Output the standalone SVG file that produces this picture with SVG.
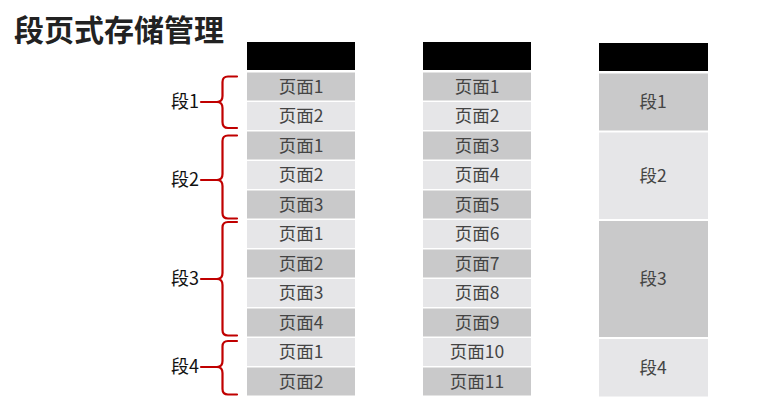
<svg xmlns="http://www.w3.org/2000/svg" width="772" height="407" viewBox="0 0 772 407">
<style>
text{font-family:"Noto Sans CJK SC","Microsoft YaHei",sans-serif}
.title{font-size:30px;font-weight:bold;fill:#222}
.hd{fill:#000}
.d{fill:#c9c9ca}
.l{fill:#e6e6e8}
.t{font-size:17.5px;fill:#444;text-anchor:middle}
.lab{font-size:18px;fill:#111;text-anchor:end}
.br{fill:none;stroke:#c00000;stroke-width:2.2;stroke-linejoin:round;stroke-linecap:round}
</style>
<rect width="772" height="407" fill="#fff"/>
<text class="title" x="14" y="41">段页式存储管理</text>

<g id="col1">
<rect class="hd" x="247" y="42" width="108" height="28"/>
<rect class="d" x="247" y="72.5" width="108" height="28"/><text class="t" x="301" y="92.5">页面1</text>
<rect class="l" x="247" y="102" width="108" height="28"/><text class="t" x="301" y="122">页面2</text>
<rect class="d" x="247" y="131.5" width="108" height="28"/><text class="t" x="301" y="151.5">页面1</text>
<rect class="l" x="247" y="161" width="108" height="28"/><text class="t" x="301" y="181">页面2</text>
<rect class="d" x="247" y="190.5" width="108" height="28"/><text class="t" x="301" y="210.5">页面3</text>
<rect class="l" x="247" y="220" width="108" height="28"/><text class="t" x="301" y="240">页面1</text>
<rect class="d" x="247" y="249.5" width="108" height="28"/><text class="t" x="301" y="269.5">页面2</text>
<rect class="l" x="247" y="279" width="108" height="28"/><text class="t" x="301" y="299">页面3</text>
<rect class="d" x="247" y="308.5" width="108" height="28"/><text class="t" x="301" y="328.5">页面4</text>
<rect class="l" x="247" y="338" width="108" height="28"/><text class="t" x="301" y="358">页面1</text>
<rect class="d" x="247" y="367.5" width="108" height="28"/><text class="t" x="301" y="387.5">页面2</text>
</g>

<g id="col2">
<rect class="hd" x="423" y="42" width="108" height="28"/>
<rect class="d" x="423" y="72.5" width="108" height="28"/><text class="t" x="477" y="92.5">页面1</text>
<rect class="l" x="423" y="102" width="108" height="28"/><text class="t" x="477" y="122">页面2</text>
<rect class="d" x="423" y="131.5" width="108" height="28"/><text class="t" x="477" y="151.5">页面3</text>
<rect class="l" x="423" y="161" width="108" height="28"/><text class="t" x="477" y="181">页面4</text>
<rect class="d" x="423" y="190.5" width="108" height="28"/><text class="t" x="477" y="210.5">页面5</text>
<rect class="l" x="423" y="220" width="108" height="28"/><text class="t" x="477" y="240">页面6</text>
<rect class="d" x="423" y="249.5" width="108" height="28"/><text class="t" x="477" y="269.5">页面7</text>
<rect class="l" x="423" y="279" width="108" height="28"/><text class="t" x="477" y="299">页面8</text>
<rect class="d" x="423" y="308.5" width="108" height="28"/><text class="t" x="477" y="328.5">页面9</text>
<rect class="l" x="423" y="338" width="108" height="28"/><text class="t" x="477" y="358">页面10</text>
<rect class="d" x="423" y="367.5" width="108" height="28"/><text class="t" x="477" y="387.5">页面11</text>
</g>

<g id="col3">
<rect class="hd" x="599" y="43" width="109" height="28"/>
<rect class="d" x="599" y="73.5" width="109" height="57"/><text class="t" x="653" y="108">段1</text>
<rect class="l" x="599" y="132.5" width="109" height="86.5"/><text class="t" x="653" y="182">段2</text>
<rect class="d" x="599" y="221" width="109" height="116"/><text class="t" x="653" y="285">段3</text>
<rect class="l" x="599" y="339" width="109" height="57.5"/><text class="t" x="653" y="374">段4</text>
</g>

<g id="seg1">
<text class="lab" x="199" y="108">段1</text>
<path class="br" d="M237 76.5 L228 76.5 Q222.5 76.5 222.5 82 L222.5 96 Q222.5 102 217 102 Q222.5 102 222.5 108 L222.5 122 Q222.5 128 228 128 L237 128"/>
</g>
<g id="seg2">
<text class="lab" x="199" y="186">段2</text>
<path class="br" d="M237 135.5 L228 135.5 Q222.5 135.5 222.5 141 L222.5 174 Q222.5 180 217 180 Q222.5 180 222.5 186 L222.5 213 Q222.5 218.5 228 218.5 L237 218.5"/>
</g>
<g id="seg3">
<text class="lab" x="199" y="285">段3</text>
<path class="br" d="M237 222 L228 222 Q222.5 222 222.5 227.5 L222.5 273 Q222.5 279 217 279 Q222.5 279 222.5 285 L222.5 330 Q222.5 335.5 228 335.5 L237 335.5"/>
</g>
<g id="seg4">
<text class="lab" x="199" y="373">段4</text>
<path class="br" d="M237 341 L228 341 Q222.5 341 222.5 346.5 L222.5 361 Q222.5 367 217 367 Q222.5 367 222.5 373 L222.5 389 Q222.5 394.5 228 394.5 L237 394.5"/>
</g>

<g id="connectors">
<line class="br" x1="201" y1="102" x2="217" y2="102"/>
<line class="br" x1="201" y1="180" x2="217" y2="180"/>
<line class="br" x1="201" y1="279" x2="217" y2="279"/>
<line class="br" x1="201" y1="367" x2="217" y2="367"/>
</g>
</svg>
